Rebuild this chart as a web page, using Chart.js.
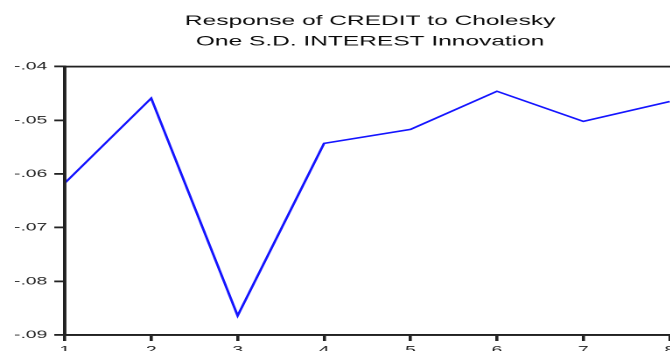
<!DOCTYPE html>
<html>
<head>
<meta charset="utf-8">
<script src="https://cdn.jsdelivr.net/npm/chart.js@4"></script>
<style>
  html, body { margin: 0; padding: 0; background: #fff; overflow: hidden; }
  /* the graph is drawn narrow and stretched sideways, like the exported EViews figure */
  #wrap { width: 423px; height: 365px; transform: scaleX(1.75); transform-origin: 0 0; }
</style>
</head>
<body>
<div id="wrap"><canvas id="chart-irf"></canvas></div>
<script>
// impulse response, periods 1..8
const periods    = [1, 2, 3, 4, 5, 6, 7, 8];
const response   = [-0.0617, -0.0459, -0.0864, -0.0543, -0.0517, -0.0446, -0.0502, -0.0465];
const yTicks     = [-0.04, -0.05, -0.06, -0.07, -0.08, -0.09];
const titleLines = ['Response of CREDIT to Cholesky', 'One S.D. INTEREST Innovation'];

const AXIS_FONT = { family: 'Liberation Sans, Arial, sans-serif', size: 11 };
const INK = '#222';

// box around the plot area (Chart.js only draws left/bottom)
const frame = {
  id: 'frame',
  afterDraw(chart) {
    const { ctx, chartArea: a } = chart;
    ctx.save();
    ctx.strokeStyle = INK;
    ctx.lineWidth = 1.8;
    ctx.strokeRect(a.left, a.top, a.right - a.left, a.bottom - a.top);
    ctx.restore();
  },
};

new Chart(document.getElementById('chart-irf'), {
  type: 'line',
  data: {
    datasets: [{
      data: periods.map((p, i) => ({ x: p, y: response[i] })),
      borderColor: '#1414ff',
      borderWidth: 1.5,
      pointRadius: 0,
      tension: 0,
      fill: false,
    }],
  },
  options: {
    responsive: true,
    maintainAspectRatio: false,
    animation: false,
    devicePixelRatio: 2,
    layout: { padding: { top: 11, left: 0, right: 0, bottom: 0 } },
    plugins: {
      legend: { display: false },
      tooltip: { enabled: false },
      title: {
        display: true,
        text: titleLines,
        color: '#0a0a0a',
        font: { family: 'Liberation Sans, Arial, sans-serif', size: 14, weight: 'normal', lineHeight: 1.45 },
        padding: { top: 0, bottom: 15 },
      },
    },
    scales: {
      x: {
        type: 'linear',
        min: 1,
        max: 8.8,
        afterBuildTicks: s => { s.ticks = s.ticks.filter(t => Number.isInteger(t.value)); },
        afterFit: s => { s.height = 30; },
        ticks: { stepSize: 1, color: '#222', font: AXIS_FONT, padding: 3, maxRotation: 0, autoSkip: false },
        grid: { drawOnChartArea: false, drawTicks: true, tickLength: 6, color: INK, lineWidth: 1.8 },
        border: { display: true, color: INK, width: 1.8 },
      },
      y: {
        min: -0.09,
        max: -0.04,
        afterBuildTicks: s => { s.ticks = yTicks.map(v => ({ value: v })); },
        afterFit: s => { s.width = 37; },
        ticks: {
          color: '#222',
          font: AXIS_FONT,
          padding: 4,
          callback: v => v.toFixed(2).replace('0.', '.'),
        },
        grid: { drawOnChartArea: false, drawTicks: true, tickLength: 6, color: INK, lineWidth: 1.8 },
        border: { display: true, color: INK, width: 1.8 },
      },
    },
  },
  plugins: [frame],
});
</script>
</body>
</html>
